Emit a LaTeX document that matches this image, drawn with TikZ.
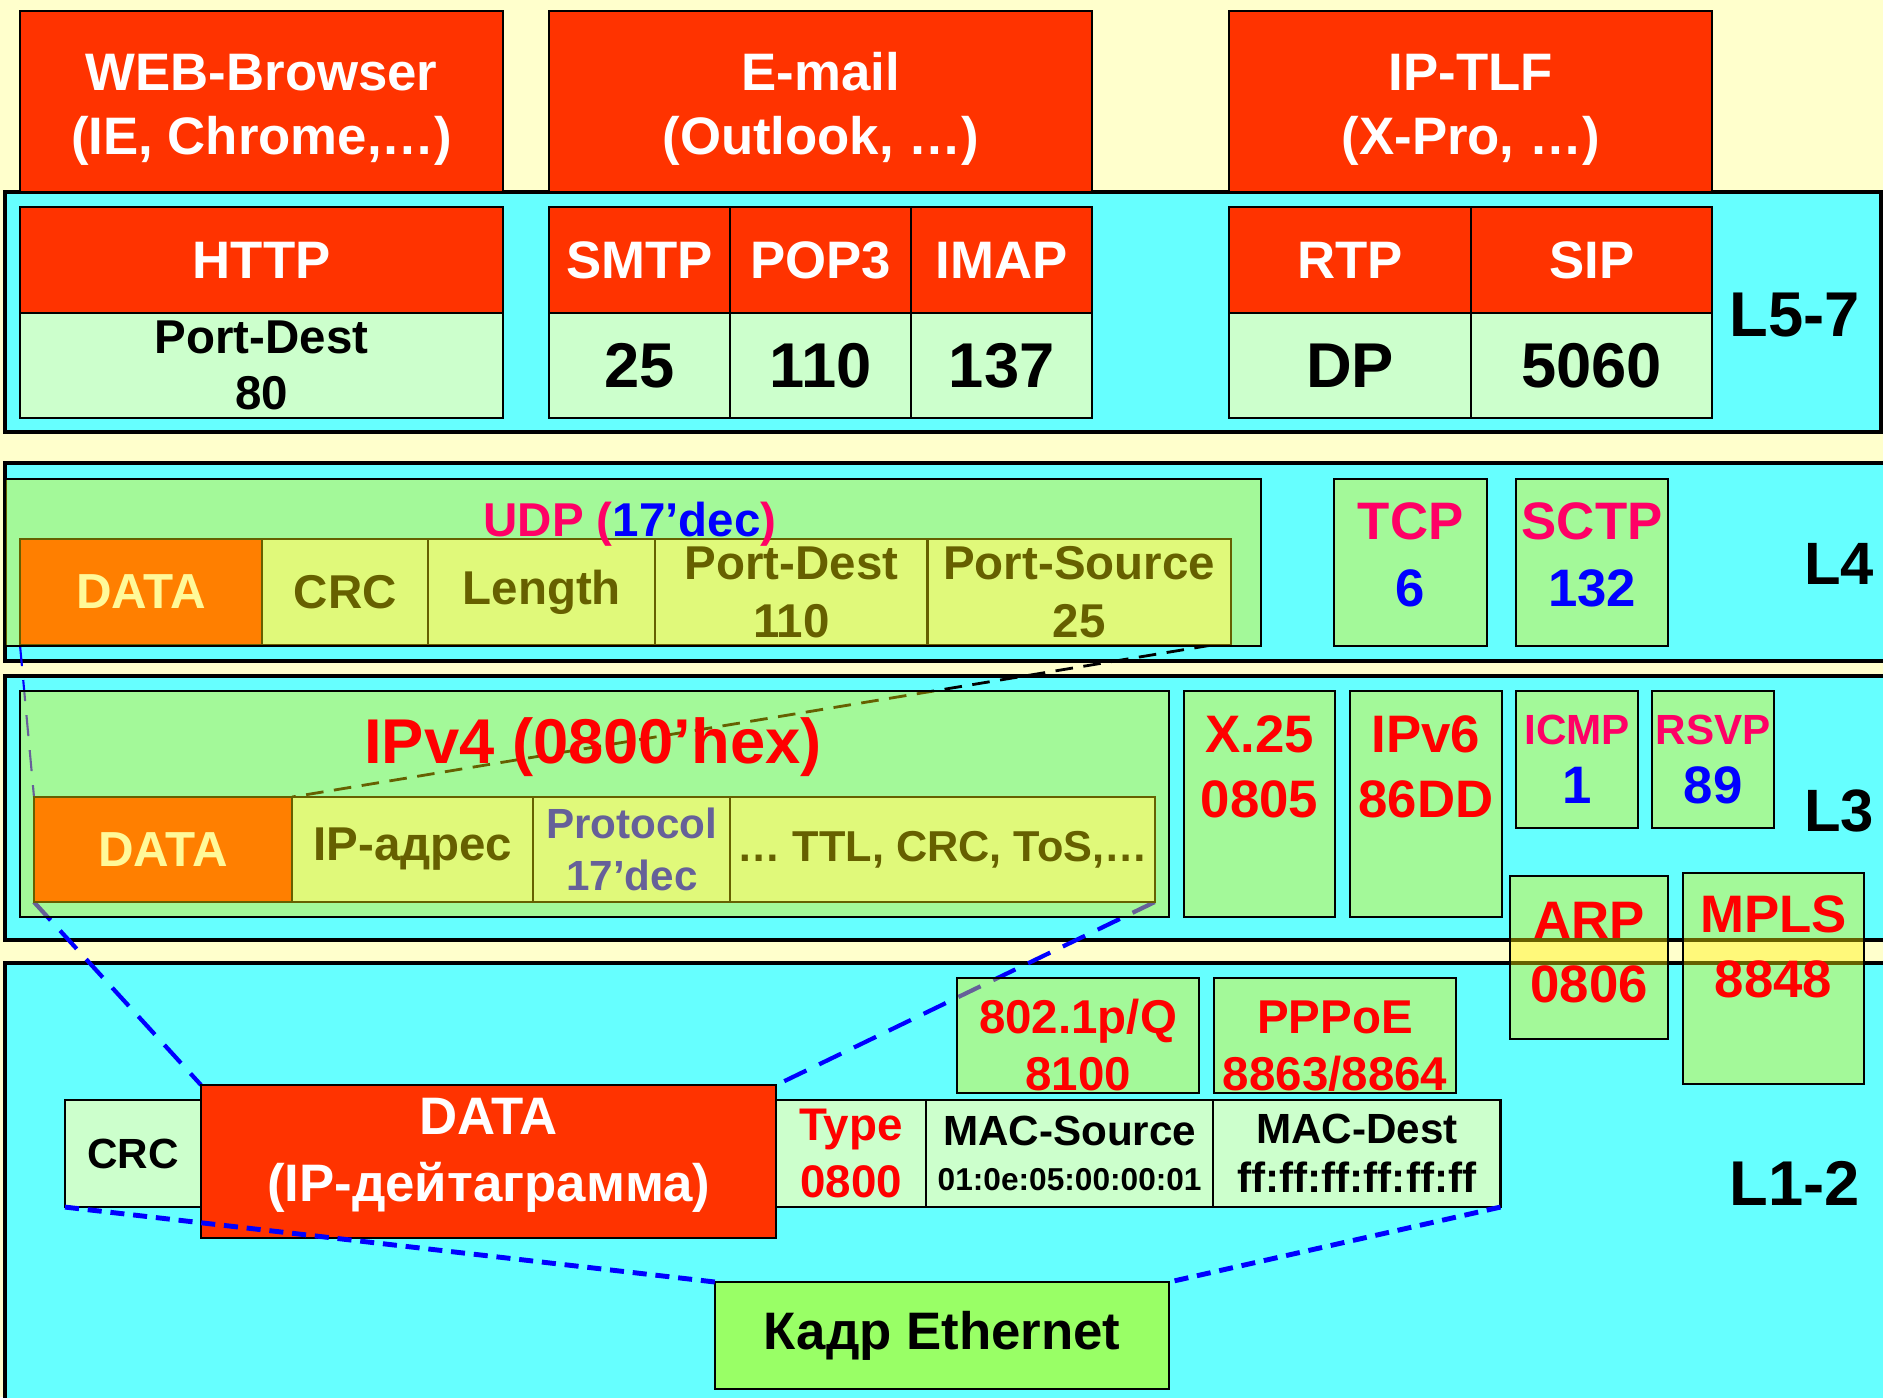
\documentclass[tikz,border=0pt]{standalone}
\usepackage{fontspec}
\setmainfont{Liberation Sans}
\usetikzlibrary{positioning}
\pgfdeclarelayer{bg}
\pgfdeclarelayer{mid}
\pgfsetlayers{bg,mid,main}
\definecolor{paper}{HTML}{FFFFCC}
\definecolor{cyanband}{HTML}{66FFFF}
\definecolor{appred}{HTML}{FF3300}
\definecolor{cellgr}{HTML}{CCFFCC}
\definecolor{pinktx}{HTML}{FF0066}
\definecolor{kadrgr}{HTML}{99FF66}
\newcommand{\szb}[2]{\fontsize{#1}{#2}\selectfont\bfseries}

\begin{document}
\begin{tikzpicture}[x=0.01cm, y=-0.01cm,
    box/.style={draw, line width=0.6pt, outer sep=0pt, inner sep=0pt, align=center},
    redbox/.style={box, fill=appred, text=white},
    valbox/.style={box, fill=cellgr},
    glass/.style={box, fill=yellow, fill opacity=0.4, text opacity=1},
    band/.style={draw, fill=cyanband, line width=0.9pt},
    app/.style={redbox, anchor=north west, minimum height=1.81cm, text height=33pt, font=\szb{15}{18}},
    proto/.style={redbox, minimum height=1.06cm, font=\szb{15}{18}},
    port/.style={valbox, minimum height=1.05cm, font=\szb{18}{21}},
    field/.style={valbox, minimum height=1.06cm, font=\szb{13.5}{16.5}},
    lvl/.style={font=\szb{18}{22}},
    link/.style={blue, line width=1.2pt, dash pattern=on 7pt off 4pt}]
  \useasboundingbox (0,0) rectangle (1883,1397);

  \begin{pgfonlayer}{bg}
    \fill[paper] (0,0) rectangle (1883,1397);
    \filldraw[band] (5,192) rectangle (1881,432);
    \filldraw[band] (5,463) rectangle (1890,661);
    \filldraw[band] (5,676) rectangle (1890,940);
    \filldraw[band] (5,963) rectangle (1890,1405);
  \end{pgfonlayer}

  % L5-7
  \node[app, minimum width=4.83cm] (web) at (20,11) {WEB-Browser\\(IE, Chrome,…)};
  \node[app, minimum width=5.43cm] (mail) at (549,11) {E-mail\\(Outlook, …)};
  \node[app, minimum width=4.83cm] (tlf) at (1229,11) {IP-TLF\\(X-Pro, …)};

  \node[proto, anchor=north west, minimum width=4.83cm] (http) at (20,207) {HTTP};
  \node[port, below=0pt of http, minimum width=4.83cm, font=\szb{13.5}{16}] (httpp) {Port-Dest\\80};
  \node[proto, anchor=north west, minimum width=1.81cm] (smtp) at (549,207) {SMTP};
  \node[proto, right=0pt of smtp, minimum width=1.81cm] (pop) {POP3};
  \node[proto, right=0pt of pop, minimum width=1.81cm] (imap) {IMAP};
  \node[port, below=0pt of smtp, minimum width=1.81cm] (smtpp) {25};
  \node[port, below=0pt of pop, minimum width=1.81cm] (popp) {110};
  \node[port, below=0pt of imap, minimum width=1.81cm] (imapp) {137};
  \node[proto, anchor=north west, minimum width=2.42cm] (rtp) at (1229,207) {RTP};
  \node[proto, right=0pt of rtp, minimum width=2.41cm] (sip) {SIP};
  \node[port, below=0pt of rtp, minimum width=2.42cm] (rtpp) {DP};
  \node[port, below=0pt of sip, minimum width=2.41cm] (sipp) {5060};
  \node[lvl] (l57) at (1795,315) {L5-7};

  % L4
  \node[redbox, anchor=north west, minimum width=2.42cm, minimum height=1.06cm, font=\szb{14}{17}] (udpdata) at (20,539) {DATA};
  \node[field, right=0pt of udpdata, minimum width=1.66cm] (udpcrc) {CRC};
  \node[field, right=0pt of udpcrc, minimum width=2.27cm] (udplen) {Length};
  \node[field, right=0pt of udplen, minimum width=2.72cm] (udpdst) {Port-Dest\\110};
  \node[field, right=0pt of udpdst, minimum width=3.03cm] (udpsrc) {Port-Source\\25};
  \node[glass, anchor=north west, minimum width=12.55cm, minimum height=1.67cm] (udp) at (5,479) {};
  \node[font=\szb{13.5}{16}] (udpname) at (630,524) {\textcolor{pinktx}{UDP (}\textcolor{blue}{17’dec}\textcolor{pinktx}{)}};
  \node[glass, anchor=north west, minimum width=1.53cm, minimum height=1.67cm, text depth=4.6pt, font=\szb{15}{19}] (tcp) at (1334,479) {\textcolor{pinktx}{TCP}\\\textcolor{blue}{6}};
  \node[glass, anchor=north west, minimum width=1.52cm, minimum height=1.67cm, text depth=4.6pt, font=\szb{15}{19}] (sctp) at (1516,479) {\textcolor{pinktx}{SCTP}\\\textcolor{blue}{132}};
  \node[lvl, font=\szb{17}{20}] (l4) at (1839,564) {L4};

  % L3
  \node[redbox, anchor=north west, minimum width=2.58cm, minimum height=1.05cm, font=\szb{14}{17}] (ipdata) at (34,797) {DATA};
  \node[field, right=0pt of ipdata, minimum width=2.41cm, minimum height=1.05cm] (ipaddr) {IP-адрес};
  \node[field, right=0pt of ipaddr, minimum width=1.97cm, minimum height=1.05cm, text=blue, font=\szb{12}{14.7}] (ipproto) {Protocol\\17’dec};
  \node[field, right=0pt of ipproto, minimum width=4.24cm, minimum height=1.05cm, font=\szb{12.3}{15}] (iprest) {… TTL, CRC, ToS,…};
  \node[glass, anchor=north west, minimum width=11.48cm, minimum height=2.26cm] (ipv4) at (20,691) {};
  \node[font=\szb{18}{22}, text=red] (ipv4name) at (593,747) {IPv4 (0800’hex)};
  \node[glass, anchor=north west, minimum width=1.51cm, minimum height=2.26cm] (x25) at (1184,691) {};
  \node[below=0.24cm of x25.north, inner sep=0pt, align=center, font=\szb{15}{18.5}, text=red] (x25name) {X.25\\0805};
  \node[glass, anchor=north west, minimum width=1.52cm, minimum height=2.26cm] (ipv6) at (1350,691) {};
  \node[below=0.24cm of ipv6.north, inner sep=0pt, align=center, font=\szb{15}{18.5}, text=red] (ipv6name) {IPv6\\86DD};
  \node[glass, anchor=north west, minimum width=1.22cm, minimum height=1.37cm, font=\szb{12}{16.8}] (icmp) at (1516,691) {\textcolor{pinktx}{ICMP}\\\textcolor{blue}{\fontsize{15}{16.8}\selectfont 1}};
  \node[glass, anchor=north west, minimum width=1.22cm, minimum height=1.37cm, font=\szb{12}{16.8}] (rsvp) at (1652,691) {\textcolor{pinktx}{RSVP}\\\textcolor{blue}{\fontsize{15}{16.8}\selectfont 89}};
  \node[lvl, font=\szb{17}{20}] (l3) at (1839,811) {L3};
  \node[glass, anchor=north west, minimum width=1.58cm, minimum height=1.63cm, text depth=2.8pt, font=\szb{15}{18.2}, text=red] (arp) at (1510,876) {ARP\\0806};
  \node[glass, anchor=north west, minimum width=1.81cm, minimum height=2.11cm] (mpls) at (1683,873) {};
  \node[below=0.22cm of mpls.north, inner sep=0pt, align=center, font=\szb{15}{18.5}, text=red] (mplsname) {MPLS\\8848};

  % L1-2
  \node[valbox, anchor=north west, minimum width=1.36cm, minimum height=1.07cm, font=\szb{12}{14}] (ethcrc) at (65,1100) {CRC};
  \node[redbox, anchor=north west, minimum width=5.75cm, minimum height=1.53cm, text depth=6.6pt, font=\szb{15}{19}] (ethdata) at (201,1085) {DATA\\(IP-дейтаграмма)};
  \node[valbox, anchor=north west, minimum width=1.50cm, minimum height=1.07cm, font=\szb{13}{16.4}, text=red] (ethtype) at (776,1100) {Type\\0800};
  \node[valbox, right=0pt of ethtype, minimum width=2.87cm, minimum height=1.07cm, font=\szb{12}{12.6}] (ethsrc) {MAC-Source\\{\fontsize{9}{12.6}\selectfont 01:0e:05:00:00:01}};
  \node[valbox, right=0pt of ethsrc, minimum width=2.87cm, minimum height=1.07cm, font=\szb{12}{14}] (ethdst) {MAC-Dest\\ff:ff:ff:ff:ff:ff};
  \node[glass, anchor=north west, minimum width=2.42cm, minimum height=1.15cm, text height=31.5pt, font=\szb{13.5}{16.2}, text=red] (vlan) at (957,978) {802.1p/Q\\8100};
  \node[glass, anchor=north west, minimum width=2.42cm, minimum height=1.15cm, text height=31.5pt, font=\szb{13.5}{16.2}, text=red] (pppoe) at (1214,978) {PPPoE\\8863/8864};
  \node[box, fill=kadrgr, anchor=north west, minimum width=4.54cm, minimum height=1.07cm, font=\szb{15}{18}] (frame) at (715,1282) {Кадр Ethernet};
  \node[lvl] (l12) at (1795,1183) {L1-2};

  \begin{pgfonlayer}{mid}
    \draw[black, line width=0.8pt, dash pattern=on 5pt off 3pt] ([xshift=-0.19cm]udpsrc.south east) -- (ipdata.north east);
    \draw[blue, line width=0.6pt, dash pattern=on 6pt off 4pt] (udpdata.south west) -- (ipdata.north west);
    \draw[link] (ipdata.south west) -- (ethdata.north west);
    \draw[link] (iprest.south east) -- (ethdata.north east);
  \end{pgfonlayer}
  \draw[link, line width=1.4pt, dash pattern=on 4pt off 2.5pt] (ethcrc.south west) -- (frame.north west);
  \draw[link, line width=1.4pt, dash pattern=on 4pt off 2.5pt] (ethdst.south east) -- (frame.north east);
\end{tikzpicture}
\end{document}
